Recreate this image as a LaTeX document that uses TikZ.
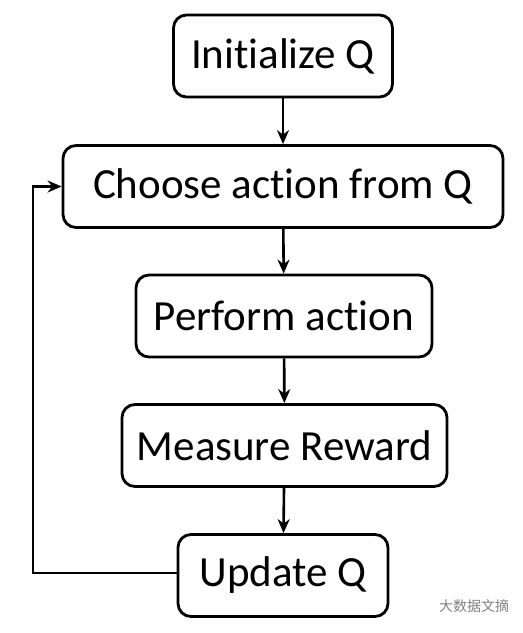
\documentclass[tikz,border=0pt]{standalone}
\usepackage{fontspec}
\setmainfont{Carlito}[Ligatures=NoCommon]
\newfontfamily\cjk{Noto Sans CJK SC}
\usetikzlibrary{arrows.meta}

\begin{document}
\begin{tikzpicture}[x=1pt,y=-1pt,
    stage/.style={draw, line width=2.8pt, rounded corners=13pt, inner sep=0pt,
      minimum height=82pt, font=\fontsize{43}{46}\selectfont},
    flow/.style={line width=2.6pt, -{Stealth[length=14pt,width=12pt]}}]
            \useasboundingbox (0,0) rectangle (523,633);
            \node[stage, minimum width=219pt] (init) at (283,56) {Initialize Q};
            \node[stage, minimum width=440pt] (choose) at (283,186.5) {Choose action from Q};
            \node[stage, minimum width=296pt] (perform) at (284,316) {Perform action};
            \node[stage, minimum width=325pt] (measure) at (284.5,445.5) {Measure Reward};
            \node[stage, minimum width=210pt] (update) at (283,575.5) {Update Q};
            \coordinate (back) at (33,573);
            \node[text=gray, font=\cjk\fontsize{14}{15}\selectfont] (mark) at (474,606) {大数据文摘};
            \draw[flow] (init) -- (choose);
            \draw[flow] (choose) -- (perform);
            \draw[flow] (perform) -- (measure);
            \draw[flow] (measure) -- (update);
            \draw[flow] (update.west |- back) -- (back) |- (choose.west);
        \end{tikzpicture}
\end{document}
